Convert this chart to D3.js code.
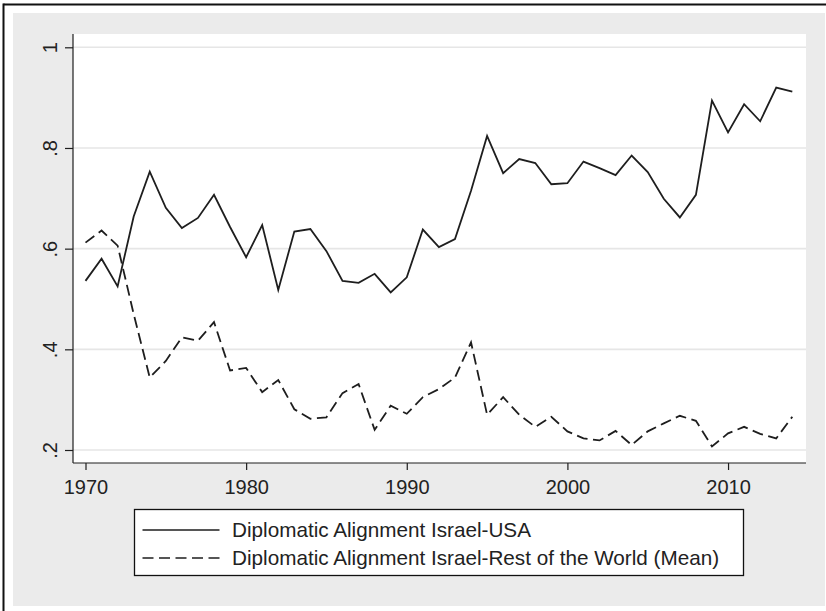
<!DOCTYPE html>
<html>
<head>
<meta charset="utf-8">
<script src="https://cdn.jsdelivr.net/npm/d3@7"></script>
<style>
  html, body { margin: 0; padding: 0; background: #ffffff; }
  svg { display: block; }
  text { font-family: "Liberation Sans", Arial, sans-serif; fill: #222; }
</style>
</head>
<body>
<script>
// ---- data ----
const years = d3.range(1970, 2015);
const usaAlignment = [
  0.536, 0.580, 0.525, 0.664, 0.753, 0.681, 0.641, 0.661, 0.707, 0.643,
  0.583, 0.647, 0.518, 0.634, 0.639, 0.595, 0.536, 0.532, 0.550, 0.513,
  0.543, 0.638, 0.603, 0.619, 0.715, 0.824, 0.750, 0.778, 0.770, 0.728,
  0.730, 0.773, 0.760, 0.746, 0.785, 0.752, 0.699, 0.662, 0.707, 0.894,
  0.831, 0.887, 0.853, 0.920, 0.912
];
const worldAlignment = [
  0.612, 0.636, 0.606, 0.470, 0.344, 0.377, 0.424, 0.417, 0.454, 0.358,
  0.363, 0.315, 0.339, 0.281, 0.262, 0.265, 0.313, 0.331, 0.240, 0.288,
  0.272, 0.305, 0.321, 0.344, 0.414, 0.270, 0.305, 0.270, 0.246, 0.266,
  0.237, 0.223, 0.219, 0.238, 0.210, 0.237, 0.253, 0.268, 0.258, 0.207,
  0.233, 0.246, 0.232, 0.223, 0.266
];
const xTicks = [1970, 1980, 1990, 2000, 2010];
const yTicks = [0.2, 0.4, 0.6, 0.8, 1];
const yTickLabels = [".2", ".4", ".6", ".8", "1"];
const seriesNames = [
  "Diplomatic Alignment Israel-USA",
  "Diplomatic Alignment Israel-Rest of the World (Mean)"
];

// ---- layout ----
const W = 826, H = 611;
const plot = { left: 73, right: 806, top: 34, bottom: 463 };
const ink = "#1e1e1e";
const dash = "11,5.5";
const fontSize = "20px";

const svg = d3.select("body").append("svg")
  .attr("width", W).attr("height", H);

// outer frame (left and top visible)
svg.append("rect").attr("x", 0).attr("y", 0).attr("width", W).attr("height", H).attr("fill", "#ffffff");
svg.append("rect").attr("x", 13).attr("y", 13).attr("width", 812).attr("height", 593).attr("fill", "#ebebeb");
svg.append("line").attr("x1", 3.5).attr("x2", 3.5).attr("y1", 3.5).attr("y2", H)
  .attr("stroke", "#111").attr("stroke-width", 2);
svg.append("line").attr("x1", 3.5).attr("x2", W).attr("y1", 4.5).attr("y2", 4.5)
  .attr("stroke", "#111").attr("stroke-width", 2);

// plot region
svg.append("rect")
  .attr("x", plot.left).attr("y", plot.top)
  .attr("width", plot.right - plot.left).attr("height", plot.bottom - plot.top)
  .attr("fill", "#ffffff");

const x = d3.scaleLinear().domain([1970, 2014]).range([85.5, 792.3]);
const y = d3.scaleLinear().domain([0.2, 1]).range([450, 47.3]);

// gridlines
svg.append("g")
  .selectAll("line").data(yTicks).join("line")
  .attr("x1", plot.left).attr("x2", plot.right)
  .attr("y1", d => y(d)).attr("y2", d => y(d))
  .attr("stroke", "#e6e6e6").attr("stroke-width", 1.6);

// y axis
const yAxis = svg.append("g")
  .attr("transform", `translate(${plot.left},0)`)
  .call(d3.axisLeft(y).tickValues(yTicks)
    .tickFormat((d, i) => yTickLabels[i]).tickSize(8).tickPadding(0));
yAxis.select(".domain").remove();
yAxis.selectAll(".tick line").attr("stroke", ink).attr("stroke-width", 1.2);
yAxis.selectAll(".tick text")
  .attr("x", null).attr("dy", null).attr("y", null)
  .attr("text-anchor", "middle")
  .attr("transform", "translate(-16,0) rotate(-90)")
  .style("font-size", fontSize).style("fill", "#222");
svg.append("line")
  .attr("x1", plot.left).attr("x2", plot.left)
  .attr("y1", plot.top).attr("y2", plot.bottom)
  .attr("stroke", ink).attr("stroke-width", 1.2);

// x axis
const xAxis = svg.append("g")
  .attr("transform", `translate(0,${plot.bottom})`)
  .call(d3.axisBottom(x).tickValues(xTicks).tickFormat(d3.format("d"))
    .tickSize(7).tickPadding(10));
xAxis.select(".domain").remove();
xAxis.selectAll(".tick line").attr("stroke", ink).attr("stroke-width", 1.2);
xAxis.selectAll(".tick text")
  .style("font-size", fontSize).style("fill", "#222");
svg.append("line")
  .attr("x1", plot.left).attr("x2", plot.right)
  .attr("y1", plot.bottom).attr("y2", plot.bottom)
  .attr("stroke", ink).attr("stroke-width", 1.2);

// lines
const line = d3.line().x(d => x(d[0])).y(d => y(d[1]));
svg.append("path")
  .datum(years.map((yr, i) => [yr, worldAlignment[i]]))
  .attr("d", line).attr("fill", "none")
  .attr("stroke", ink).attr("stroke-width", 1.8)
  .attr("stroke-dasharray", dash);
svg.append("path")
  .datum(years.map((yr, i) => [yr, usaAlignment[i]]))
  .attr("d", line).attr("fill", "none")
  .attr("stroke", ink).attr("stroke-width", 1.8);

// legend
const lg = svg.append("g");
lg.append("rect")
  .attr("x", 134.5).attr("y", 509.5).attr("width", 609).attr("height", 66)
  .attr("fill", "#ffffff").attr("stroke", "#111").attr("stroke-width", 1.3);
const rows = [
  { name: seriesNames[0], cy: 530, dashed: false },
  { name: seriesNames[1], cy: 558, dashed: true }
];
rows.forEach(r => {
  lg.append("line")
    .attr("x1", 142.5).attr("x2", 219.5).attr("y1", r.cy).attr("y2", r.cy)
    .attr("stroke", ink).attr("stroke-width", 1.5)
    .attr("stroke-dasharray", r.dashed ? dash : null);
  lg.append("text")
    .attr("x", 232).attr("y", r.cy + 7)
    .style("font-size", "20.7px")
    .text(r.name);
});
</script>
</body>
</html>
